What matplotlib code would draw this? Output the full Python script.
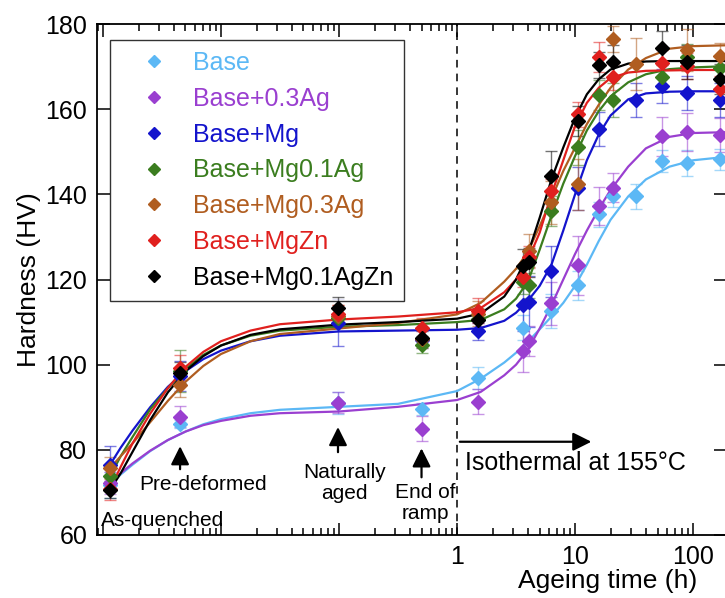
import numpy as np
import matplotlib
matplotlib.use('Agg')
import matplotlib.pyplot as plt
from matplotlib.lines import Line2D
from matplotlib.ticker import FixedLocator, FixedFormatter, LogLocator, NullFormatter

plt.rcParams['font.family'] = ['Liberation Sans', 'DejaVu Sans']

nan = np.nan

# ageing times of the measured points (h); first four are the pre-ageing states
pt_time = [0.00115, 0.0045, 0.098, 0.5, 1.5, 3.6, 4.1, 6.2, 10.5, 16, 21, 33, 55, 89, 168]

names = ['Base', 'Base+0.3Ag', 'Base+Mg', 'Base+Mg0.1Ag', 'Base+Mg0.3Ag', 'Base+MgZn', 'Base+Mg0.1AgZn']
colors = ['#5cb8f5', '#9a3fd0', '#1414cc', '#3b7d1f', '#b05d20', '#e0201e', '#000000']

base = [71.8, 86.1, 91.0, 89.6, 96.9, 108.7, nan, 112.5, 118.6, 135.3, 139.5, 139.5, 147.8, 147.3, 148.2]
ag03 = [72.2, 87.8, 91.1, 85.0, 91.3, 103.3, 105.6, 114.4, 123.3, 137.2, 141.6, nan, 153.6, 154.6, 153.9]
mg = [76.5, 97.4, 109.9, 105.9, 107.8, 113.9, 114.8, 121.9, 141.4, 155.3, nan, 162.1, 165.4, 163.8, 162.1]
mg01ag = [73.8, 98.5, 111.0, 104.7, 110.8, 119.5, 118.6, 136.0, 151.0, 163.3, 162.1, nan, 167.5, 172.2, 169.6]
mg03ag = [75.7, 95.3, 111.5, 106.0, 112.0, nan, 126.8, 138.1, 142.4, nan, 176.5, 170.6, nan, 173.9, 172.5]
mgzn = [70.8, 99.3, 112.0, 108.5, 112.7, 120.7, 125.4, 140.7, 158.8, 172.2, 167.5, nan, 170.8, 170.1, 164.7]
mg01agzn = [70.6, 98.1, 113.4, 106.3, 110.4, 123.1, 124.0, 144.2, 157.3, 170.4, 171.1, nan, 174.4, 171.1, 167.1]

base_err = [3.0, 1.0, 2.5, 1.5, 2.5, 3.0, nan, 4.0, 3.5, 3.0, 2.5, 3.0, 2.5, 3.0, 2.5]
ag03_err = [2.5, 2.5, 2.5, 3.0, 3.0, 5.0, 3.5, 5.0, 7.0, 4.5, 3.5, nan, 4.5, 4.5, 4.0]
mg_err = [4.5, 3.5, 5.5, 2.0, 2.0, 6.0, 6.0, 6.0, 5.0, 4.0, nan, 4.0, 4.0, 4.0, 4.0]
mg01ag_err = [2.5, 5.0, 2.0, 2.0, 2.5, 3.0, 3.0, 3.5, 4.0, 3.5, 4.0, nan, 3.5, 3.0, 3.0]
mg03ag_err = [2.5, 3.0, 2.5, 2.0, 3.0, nan, 4.0, 5.0, 6.0, nan, 3.0, 6.0, nan, 5.0, 3.0]
mgzn_err = [2.5, 3.0, 2.0, 2.5, 3.0, 2.5, 2.5, 3.0, 3.0, 3.5, 3.0, nan, 3.0, 3.0, 3.0]
mg01agzn_err = [2.0, 2.5, 2.5, 2.0, 2.5, 4.0, 3.5, 6.0, 3.5, 3.0, 4.0, nan, 4.0, 4.0, 3.5]

fit_logt = [-2.94, -2.85, -2.75, -2.6, -2.45, -2.3, -2.15, -2.0, -1.75, -1.5, -1.0, -0.5, 0.0, 0.2,
            0.4, 0.5, 0.6, 0.7, 0.8, 0.9, 1.0, 1.1, 1.2, 1.3, 1.45, 1.6, 1.8, 2.0, 2.28]
base_fit = [71.8, 74.2, 76.5, 79.7, 82.3, 84.3, 86.0, 87.2, 88.6, 89.4, 90.1, 90.8, 93.8, 96.7,
            100.5, 102.8, 105.4, 108.3, 111.3, 114.5, 118.5, 123.5, 129.0, 134.0, 139.5, 143.5, 146.5, 148.0, 148.8]
ag03_fit = [72.2, 74.5, 76.8, 79.8, 82.3, 84.3, 85.8, 86.8, 88.0, 88.6, 89.0, 90.1, 91.7, 93.6,
            97.5, 100.0, 103.5, 108.5, 114.0, 120.0, 126.0, 131.5, 136.5, 141.0, 146.5, 150.8, 153.5, 154.4, 154.6]
mg_fit = [76.5, 80.5, 84.5, 90.0, 94.8, 98.5, 101.3, 103.3, 105.5, 106.8, 107.8, 108.0, 108.2, 108.6,
          110.3, 112.2, 115.0, 118.5, 123.5, 131.5, 140.0, 148.0, 154.0, 158.5, 162.3, 163.7, 164.1, 164.2, 164.2]
mg01ag_fit = [73.8, 78.5, 83.0, 89.5, 94.5, 99.0, 102.3, 104.5, 106.8, 108.0, 108.9, 109.3, 110.0, 110.5,
              113.0, 115.5, 119.5, 127.0, 135.0, 142.5, 149.0, 155.0, 159.5, 163.0, 166.3, 168.2, 169.4, 169.8, 170.1]
mg03ag_fit = [75.7, 78.5, 81.5, 86.5, 91.5, 96.0, 99.7, 102.5, 105.5, 107.2, 108.5, 109.8, 111.8, 114.5,
              119.5, 122.5, 126.5, 132.5, 139.0, 145.5, 151.0, 156.5, 161.0, 165.0, 169.3, 172.0, 174.2, 174.8, 175.0]
mgzn_fit = [70.8, 76.0, 81.5, 88.5, 94.5, 99.5, 103.0, 105.5, 108.0, 109.5, 110.6, 111.3, 112.3, 113.3,
            117.0, 120.0, 124.5, 131.0, 140.0, 148.0, 156.0, 161.5, 165.0, 167.3, 168.6, 169.0, 169.1, 169.2, 169.2]
mg01agzn_fit = [70.6, 74.5, 79.5, 87.0, 93.5, 98.5, 102.0, 104.5, 107.0, 108.3, 109.4, 110.0, 110.8, 112.0,
                116.0, 120.0, 126.0, 134.5, 143.5, 151.0, 158.0, 163.5, 167.0, 169.3, 170.7, 171.2, 171.3, 171.3, 171.3]

points = [base, ag03, mg, mg01ag, mg03ag, mgzn, mg01agzn]
errs = [base_err, ag03_err, mg_err, mg01ag_err, mg03ag_err, mgzn_err, mg01agzn_err]
fits = [base_fit, ag03_fit, mg_fit, mg01ag_fit, mg03ag_fit, mgzn_fit, mg01agzn_fit]

fig = plt.figure(figsize=(7.25, 5.98), dpi=100)
ax = fig.add_axes([97/725, 1-535/598, 629/725, 511/598])

t = np.array(pt_time)
fit_t = 10 ** np.array(fit_logt)
handles = []
for i in range(len(names)):
    y = np.array(points[i])
    e = np.array(errs[i])
    ok = ~np.isnan(y)
    ax.errorbar(t[ok], y[ok], yerr=e[ok], fmt='none', ecolor=colors[i], alpha=0.55,
                elinewidth=1.0, capsize=4, capthick=1.0, zorder=2+i)
    ax.plot(fit_t, fits[i], '-', color=colors[i], lw=1.6, zorder=10+i)
    ax.plot(t[ok], y[ok], 'D', color=colors[i], ms=7.5, mec=colors[i], zorder=20+i)
    handles.append(Line2D([], [], marker='D', ls='none', color=colors[i], ms=6))

ax.axvline(1, color='k', ls=(0, (5, 4)), lw=1.1, zorder=1)

ax.set_xscale('log')
ax.set_xlim(0.00089, 190)
ax.set_ylim(60, 180)
ax.set_yticks([60, 80, 100, 120, 140, 160, 180])
ax.xaxis.set_major_locator(FixedLocator([1e-3, 1e-2, 1e-1, 1, 10, 100]))
ax.xaxis.set_major_formatter(FixedFormatter(['', '', '', '1', '10', '100']))
ax.xaxis.set_minor_locator(LogLocator(base=10, subs=np.arange(2, 10)))
ax.xaxis.set_minor_formatter(NullFormatter())
ax.tick_params(which='both', direction='in', top=True, right=True, labelsize=18, width=1.1)
ax.tick_params(which='major', length=9, pad=7)
ax.tick_params(which='minor', length=5)
for s in ax.spines.values():
    s.set_linewidth(1.3)

ax.set_ylabel('Hardness (HV)', fontsize=19, labelpad=3)
ax.set_xlabel('Ageing time (h)', fontsize=19)
ax.xaxis.set_label_coords(0.812, -0.066)

leg = ax.legend(handles, names, loc='upper left', bbox_to_anchor=(0.0207, 0.969), borderaxespad=0,
                fontsize=18, frameon=True, fancybox=False, handlelength=2.6, handletextpad=0.25,
                labelspacing=0.47, borderpad=0.45)
leg.get_frame().set_edgecolor('k')
leg.get_frame().set_linewidth(1.0)
for txt, c in zip(leg.get_texts(), colors):
    txt.set_color(c)

arrow = dict(arrowstyle='-|>', color='k', lw=1.6, mutation_scale=28)
ax.annotate('', xy=(0.0045, 81.5), xytext=(0.0045, 74.8), arrowprops=arrow)
ax.annotate('', xy=(0.098, 86.0), xytext=(0.098, 78.8), arrowprops=arrow)
ax.annotate('', xy=(0.5, 81.0), xytext=(0.5, 72.9), arrowprops=arrow)
ax.annotate('', xy=(14.5, 81.9), xytext=(1.0, 81.9), arrowprops=arrow)

ax.text(0.0071, 71.8, 'Pre-deformed', fontsize=15, ha='center', va='center')
ax.text(0.112, 72.2, 'Naturally\naged', fontsize=15, ha='center', va='center', linespacing=1.1)
ax.text(0.54, 67.5, 'End of\nramp', fontsize=15, ha='center', va='center', linespacing=1.15)
ax.text(0.00096, 63.4, 'As-quenched', fontsize=15, ha='left', va='center')
ax.text(1.17, 76.8, 'Isothermal at 155°C', fontsize=18, ha='left', va='center')

fig.savefig('out.png', dpi=100)
